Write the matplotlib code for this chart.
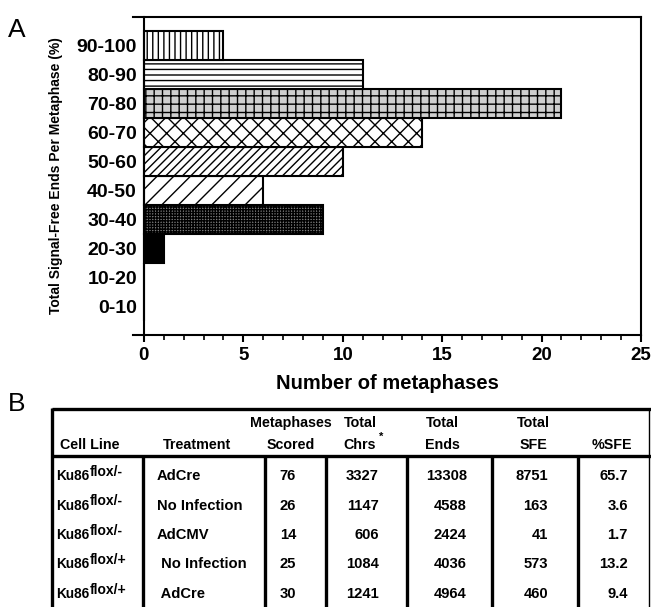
import matplotlib.pyplot as plt
from matplotlib.ticker import MultipleLocator

plt.rcParams['font.family'] = ['Liberation Sans', 'DejaVu Sans']
plt.rcParams['hatch.linewidth'] = 1.0

# Panel A : distribution of signal-free ends
bins = ['0-10', '10-20', '20-30', '30-40', '40-50',
        '50-60', '60-70', '70-80', '80-90', '90-100']
counts = [0, 0, 1, 9, 6, 10, 14, 21, 11, 4]

# Panel B : table
genotypes = ['flox/-', 'flox/-', 'flox/-', 'flox/+', 'flox/+']
treatments = ['AdCre', 'No Infection', 'AdCMV', ' No Infection', ' AdCre']
scored = [76, 26, 14, 25, 30]
total_chrs = [3327, 1147, 606, 1084, 1241]
total_ends = [13308, 4588, 2424, 4036, 4964]
total_sfe = [8751, 163, 41, 573, 460]
pct_sfe = [65.7, 3.6, 1.7, 13.2, 9.4]

# styles des barres (bas -> haut)
bar_hatch = [None, None, None, '++++++', '//', '////', 'xx', '++', '---', '|||']
bar_face = ['white', 'white', 'black', '#808080', 'white', 'white',
            'white', '#cfcfcf', 'white', 'white']

W, H = 651, 607
fig = plt.figure(figsize=(W / 100, H / 100), dpi=100)

# --- Panel A ---
ax = fig.add_axes([133 / W, 1 - 335 / H, (641 - 133) / W, (335 - 17) / H])
pos = list(range(len(bins)))
bars = ax.barh(pos, counts, height=1.0, color='white', edgecolor='black', linewidth=1.5)
for b, h, fc in zip(bars, bar_hatch, bar_face):
    b.set_facecolor(fc)
    if h:
        b.set_hatch(h)

ax.set_xlim(-0.55, 25)
ax.set_ylim(-1, 10)
ax.spines['left'].set_position(('data', 0))
for s in ax.spines.values():
    s.set_linewidth(1.5)

ax.set_yticks(pos)
ax.set_yticklabels(bins, fontsize=14, fontweight='bold')
ax.tick_params(axis='y', length=0, pad=5)

ax.xaxis.set_minor_locator(MultipleLocator(1))
ax.set_xticks([0, 5, 10, 15, 20, 25])
ax.tick_params(axis='x', which='major', length=5, width=1.5, labelsize=13.5, pad=4)
ax.tick_params(axis='x', which='minor', length=3.5, width=1.2)
for lab in ax.get_xticklabels():
    lab.set_fontweight('bold')

ax.set_xlabel('Number of metaphases', fontsize=14.5, fontweight='bold', labelpad=7)
ax.set_ylabel('Total Signal-Free Ends Per Metaphase (%)', fontsize=10, fontweight='bold', labelpad=10)

fig.text(8 / W, 1 - 30 / H, 'A', fontsize=19, va='center', ha='left')
fig.text(8 / W, 1 - 404 / H, 'B', fontsize=19, va='center', ha='left')

# --- Panel B (table drawn in pixel coords) ---
tb = fig.add_axes([0, 0, 1, 1])
tb.set_xlim(0, W)
tb.set_ylim(H, 0)
tb.axis('off')

lw_thick = 2.4
tb.plot([52, W], [409, 409], color='black', lw=lw_thick, solid_capstyle='butt')
tb.plot([52, W], [456, 456], color='black', lw=lw_thick, solid_capstyle='butt')
tb.plot([52, 52], [408, H], color='black', lw=lw_thick, solid_capstyle='butt')
tb.plot([649, 649], [409, H], color='black', lw=1.0)
for xv in [143, 265, 326, 407, 492, 578]:
    tb.plot([xv, xv], [456, H], color='black', lw=lw_thick, solid_capstyle='butt')

hdr = dict(fontsize=10.3, fontweight='bold', va='center')
tb.text(60, 445, 'Cell Line', ha='left', **hdr)
tb.text(163, 445, 'Treatment', ha='left', **hdr)
tb.text(291, 423, 'Metaphases', ha='center', **hdr)
tb.text(291, 445, 'Scored', ha='center', **hdr)
tb.text(360, 423, 'Total', ha='center', **hdr)
tb.text(360, 445, 'Chrs', ha='center', **hdr)
tb.text(379, 437, '*', ha='left', fontsize=8, fontweight='bold', va='center')
tb.text(442, 423, 'Total', ha='center', **hdr)
tb.text(442, 445, 'Ends', ha='center', **hdr)
tb.text(533, 423, 'Total', ha='center', **hdr)
tb.text(533, 445, 'SFE', ha='center', **hdr)
tb.text(612, 445, '%SFE', ha='center', **hdr)

cell = dict(fontsize=10.6, fontweight='bold', va='center')
for i in range(len(scored)):
    y = 476 + i * 29.5
    t = tb.text(56, y, 'Ku86', ha='left', fontsize=9.8, fontweight='bold', va='center')
    tb.annotate(genotypes[i], xy=(1, 0.3), xycoords=t, ha='left', va='bottom',
                fontsize=10, fontweight='bold')
    tb.text(157, y, treatments[i], ha='left', **cell)
    tb.text(288, y, str(scored[i]), ha='center', **cell)
    tb.text(379, y, str(total_chrs[i]), ha='right', **cell)
    tb.text(467, y, str(total_ends[i]), ha='right', **cell)
    tb.text(548, y, str(total_sfe[i]), ha='right', **cell)
    tb.text(628, y, f'{pct_sfe[i]:.1f}', ha='right', **cell)

fig.savefig('out.png', dpi=100)
